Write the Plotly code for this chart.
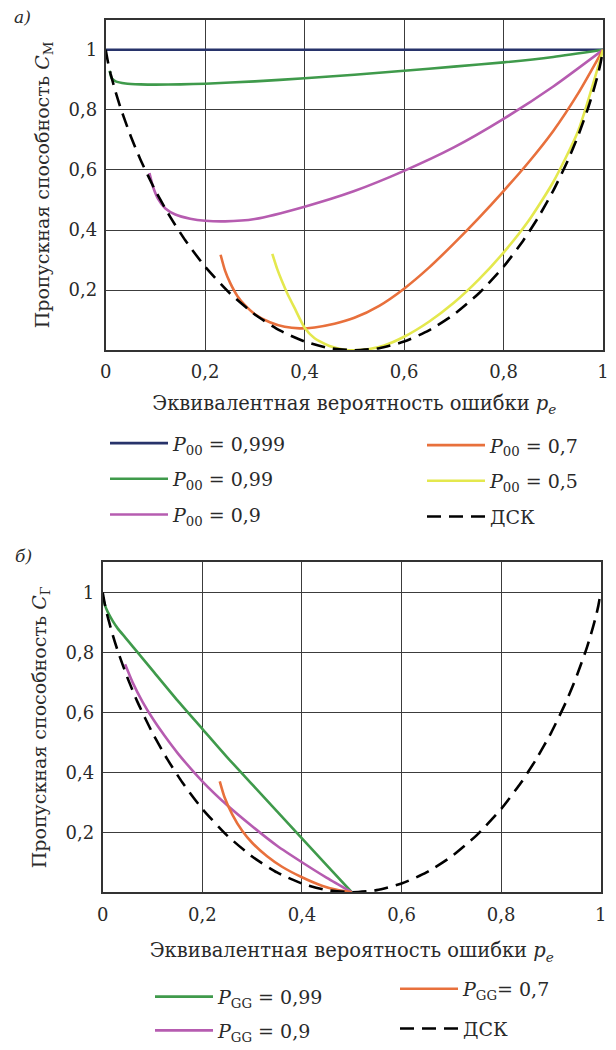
import plotly.graph_objects as go

# ---------------- data: panel а) ----------------
x_a999 = [0.0, 0.5, 1.0]
y_a999 = [1.0, 1.0, 1.0]

x_a99 = [0.008, 0.012, 0.02, 0.04, 0.07, 0.1, 0.15, 0.2, 0.3, 0.4, 0.5, 0.6, 0.7, 0.8, 0.9, 1.0]
y_a99 = [0.93, 0.905, 0.895, 0.888, 0.885, 0.884, 0.885, 0.887, 0.895, 0.905, 0.917, 0.93, 0.944, 0.958, 0.976, 1.0]

x_a9 = [0.088, 0.095, 0.105, 0.12, 0.14, 0.17, 0.2, 0.24, 0.3, 0.4, 0.5, 0.6, 0.7, 0.8, 0.9, 1.0]
y_a9 = [0.59, 0.545, 0.505, 0.472, 0.452, 0.438, 0.431, 0.429, 0.437, 0.478, 0.53, 0.597, 0.675, 0.77, 0.878, 1.0]

x_a7 = [0.231, 0.24, 0.25, 0.265, 0.28, 0.3, 0.33, 0.36, 0.39, 0.42, 0.46, 0.5, 0.55, 0.6, 0.65, 0.7, 0.75, 0.8, 0.85, 0.9, 0.95, 1.0]
y_a7 = [0.318, 0.265, 0.225, 0.18, 0.15, 0.12, 0.093, 0.078, 0.073, 0.076, 0.088, 0.108, 0.148, 0.205, 0.275, 0.355, 0.44, 0.53, 0.625, 0.73, 0.855, 1.0]

x_a5 = [0.335, 0.345, 0.355, 0.365, 0.38, 0.4, 0.42, 0.45, 0.48, 0.5, 0.53, 0.56, 0.6, 0.65, 0.7, 0.75, 0.8, 0.85, 0.9, 0.95, 1.0]
y_a5 = [0.321, 0.27, 0.228, 0.19, 0.14, 0.075, 0.04, 0.014, 0.002, 0.0, 0.004, 0.016, 0.045, 0.095, 0.158, 0.235, 0.325, 0.43, 0.56, 0.73, 1.0]

x_dsk = [0.0, 0.005, 0.01, 0.02, 0.03, 0.05, 0.07, 0.1, 0.13, 0.16, 0.2, 0.25, 0.3, 0.35, 0.4, 0.45, 0.5,
         0.55, 0.6, 0.65, 0.7, 0.75, 0.8, 0.84, 0.87, 0.9, 0.93, 0.95, 0.97, 0.98, 0.99, 0.995, 1.0]
y_dsk = [1.0, 0.955, 0.919, 0.859, 0.806, 0.714, 0.634, 0.531, 0.443, 0.366, 0.278, 0.189, 0.119, 0.066, 0.029, 0.007, 0.0,
         0.007, 0.029, 0.066, 0.119, 0.189, 0.278, 0.366, 0.443, 0.531, 0.634, 0.714, 0.806, 0.859, 0.919, 0.955, 1.0]

# ---------------- data: panel б) ----------------
x_b99 = [0.0, 0.005, 0.01, 0.02, 0.03, 0.045, 0.06, 0.08, 0.1, 0.15, 0.2, 0.25, 0.3, 0.35, 0.4, 0.45, 0.5]
y_b99 = [0.985, 0.955, 0.935, 0.905, 0.88, 0.85, 0.82, 0.78, 0.74, 0.64, 0.545, 0.45, 0.36, 0.27, 0.18, 0.09, 0.0]

x_b9 = [0.045, 0.06, 0.08, 0.1, 0.125, 0.15, 0.2, 0.25, 0.3, 0.35, 0.4, 0.45, 0.5]
y_b9 = [0.76, 0.7, 0.635, 0.58, 0.52, 0.465, 0.37, 0.29, 0.22, 0.155, 0.1, 0.048, 0.0]

x_b7 = [0.235, 0.245, 0.26, 0.28, 0.3, 0.33, 0.36, 0.4, 0.44, 0.47, 0.5]
y_b7 = [0.37, 0.315, 0.26, 0.205, 0.165, 0.12, 0.085, 0.05, 0.022, 0.008, 0.0]

tick_vals_x = [0, 0.2, 0.4, 0.6, 0.8, 1]
tick_text_x = ["0", "0,2", "0,4", "0,6", "0,8", "1"]
tick_vals_y = [0.2, 0.4, 0.6, 0.8, 1]
tick_text_y = ["0,2", "0,4", "0,6", "0,8", "1"]

# ---------------- style ----------------
FONT = "DejaVu Serif"
TXT = "#2a2a2a"
C_NAVY = "#27336a"
C_GREEN = "#3f9a4b"
C_PURPLE = "#b65cb0"
C_ORANGE = "#e8703c"
C_YELLOW = "#e4e84e"
LW = 2.6
DASH = "14px,8px"

W, H = 616, 1050


def px_x(p):
    return p / W


def px_y(p):
    return 1 - p / H


fig = go.Figure()


def add(x, y, name, color, xa, ya, legend, dash=None, group=None):
    fig.add_trace(go.Scatter(
        x=x, y=y, mode="lines", name=name,
        line=dict(color=color, width=LW, dash=dash, shape="spline", smoothing=0.6),
        xaxis=xa, yaxis=ya, legend=legend, legendgroup=group,
        hoverinfo="skip",
    ))


# panel а
add(x_a999, y_a999, "<i>P</i><sub>00</sub> = 0,999", C_NAVY, "x", "y", "legend", group="a1")
add(x_a99, y_a99, "<i>P</i><sub>00</sub> = 0,99", C_GREEN, "x", "y", "legend", group="a2")
add(x_a9, y_a9, "<i>P</i><sub>00</sub> = 0,9", C_PURPLE, "x", "y", "legend", group="a3")
add(x_a7, y_a7, "<i>P</i><sub>00</sub> = 0,7", C_ORANGE, "x", "y", "legend2", group="a4")
add(x_a5, y_a5, "<i>P</i><sub>00</sub> = 0,5", C_YELLOW, "x", "y", "legend2", group="a5")
add(x_dsk, y_dsk, "ДСК", "black", "x", "y", "legend2", dash=DASH, group="a6")

# panel б
add(x_b99, y_b99, "<i>P</i><sub>GG</sub> = 0,99", C_GREEN, "x2", "y2", "legend3", group="b1")
add(x_b9, y_b9, "<i>P</i><sub>GG</sub> = 0,9", C_PURPLE, "x2", "y2", "legend3", group="b2")
add(x_b7, y_b7, "<i>P</i><sub>GG</sub>= 0,7", C_ORANGE, "x2", "y2", "legend4", group="b3")
add(x_dsk, y_dsk, "ДСК", "black", "x2", "y2", "legend4", dash=DASH, group="b4")

axis_common = dict(
    showgrid=True, gridcolor="#3c3c3c", gridwidth=1.3,
    showline=True, mirror=True, linecolor="#333333", linewidth=2,
    zeroline=False, ticks="", tickfont=dict(family=FONT, size=18, color=TXT),
    automargin=False, fixedrange=True,
)
xtitle_font = dict(family=FONT, size=19.5, color=TXT)
ytitle_font = dict(family=FONT, size=19, color=TXT)
XT = "Эквивалентная вероятность ошибки <i>p</i><sub><i>e</i></sub>"

fig.update_layout(
    width=W, height=H, autosize=False,
    margin=dict(l=0, r=0, t=0, b=0),
    paper_bgcolor="white", plot_bgcolor="white",
    font=dict(family=FONT, size=18, color=TXT),
    xaxis=dict(axis_common, domain=[px_x(105.7), px_x(603)], range=[0, 1], anchor="y",
               tickvals=tick_vals_x, ticktext=tick_text_x, ticklabelstandoff=4,
               title=dict(text=XT, font=xtitle_font, standoff=15)),
    yaxis=dict(axis_common, domain=[px_y(355), px_y(20)], range=[0, 1.1], anchor="x",
               tickvals=tick_vals_y, ticktext=tick_text_y, ticklabelstandoff=3,
               title=dict(text="Пропускная способность <i>C</i><sub>М</sub>",
                          font=ytitle_font, standoff=14)),
    xaxis2=dict(axis_common, domain=[px_x(102.7), px_x(600.8)], range=[0, 1], anchor="y2",
                tickvals=tick_vals_x, ticktext=tick_text_x, ticklabelstandoff=5,
                title=dict(text=XT, font=xtitle_font, standoff=20)),
    yaxis2=dict(axis_common, domain=[px_y(904.3), px_y(570)], range=[0, 1.1], anchor="x2",
                tickvals=tick_vals_y, ticktext=tick_text_y, ticklabelstandoff=3,
                title=dict(text="Пропускная способность <i>C</i><sub>Г</sub>",
                           font=ytitle_font, standoff=14)),
    showlegend=True,
)

leg_common = dict(
    orientation="v", xanchor="left", yanchor="top", bgcolor="rgba(0,0,0,0)",
    borderwidth=0, font=dict(family=FONT, size=19, color=TXT),
    itemwidth=58, itemclick=False, itemdoubleclick=False,
)
fig.update_layout(
    legend=dict(leg_common, x=px_x(105), y=px_y(430), tracegroupgap=8),
    legend2=dict(leg_common, x=px_x(422), y=px_y(432), tracegroupgap=8),
    legend3=dict(leg_common, x=px_x(150), y=px_y(991), tracegroupgap=6),
    legend4=dict(leg_common, x=px_x(395), y=px_y(983), tracegroupgap=12),
)

fig.add_annotation(text="<i>а)</i>", x=px_x(22), y=px_y(17), xref="paper", yref="paper",
                   showarrow=False, font=dict(family=FONT, size=17, color=TXT),
                   xanchor="center", yanchor="middle")
fig.add_annotation(text="<i>б)</i>", x=px_x(23), y=px_y(564), xref="paper", yref="paper",
                   showarrow=False, font=dict(family=FONT, size=17, color=TXT),
                   xanchor="center", yanchor="middle")

# remove the browser's default 8px page margin so the 616x1050 figure fills the window exactly
fig.write_html("out.html", config={"displayModeBar": False},
               post_script="document.body.style.margin='0px';"
                           "document.documentElement.style.overflow='hidden';")
